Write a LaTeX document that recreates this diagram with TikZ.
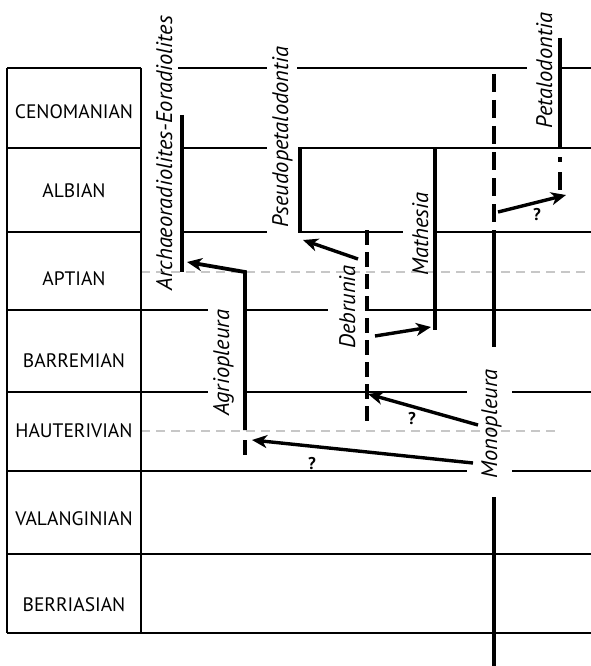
\documentclass[tikz,border=0pt]{standalone}
\usepackage{fontspec}
\setmainfont{PT Sans}
\usetikzlibrary{arrows.meta}
\begin{document}
\begin{tikzpicture}[x=1pt,y=-1pt,
  tablerule/.style={line width=1.8pt},
  guideline/.style={line width=1.2pt, black!22, dash pattern=on 9pt off 6pt},
  taxrange/.style={line width=3.8pt},
  taxdash/.style={line width=3.8pt, dash pattern=on 18pt off 8pt},
  descent/.style={line width=3.4pt, -{Stealth[length=15pt,width=13pt,inset=4.5pt]}},
  stagename/.style={font=\fontsize{19.5}{21}\selectfont, anchor=base, inner sep=0pt},
  taxonname/.style={font=\fontsize{22.5}{24}\selectfont\itshape, rotate=90, anchor=base, inner sep=0pt},
  qmark/.style={font=\fontsize{17}{18}\selectfont\bfseries, inner sep=0pt}]
\useasboundingbox (0,0) rectangle (591,666);
% guide lines
\draw[guideline] (141,272) -- (591,272);
\draw[guideline] (141,431) -- (556,431);
% table
\draw[tablerule] (7,68) -- (7,633);
\draw[tablerule] (141,68) -- (141,633);
\foreach \y/\a/\b in {68/7/141, 68/178/267, 68/297/527, 68/560/591,
  148/7/141, 148/182/267, 148/298/591,
  232/7/141, 232/182/267, 232/298/403, 232/435/591,
  310/7/208, 310/245/328, 310/367/591,
  392/7/208, 392/245/467, 392/512/591,
  471/7/467, 471/512/591, 554/7/591, 633/7/591}
  \draw[tablerule] (\a,\y) -- (\b,\y);
% stage names
\node[stagename] (cen) at (74,119) {CENOMANIAN};
\node[stagename] (alb) at (74,197) {ALBIAN};
\node[stagename] (apt) at (74,285) {APTIAN};
\node[stagename] (bar) at (74,367) {BARREMIAN};
\node[stagename] (hau) at (74,437) {HAUTERIVIAN};
\node[stagename] (val) at (74,525) {VALANGINIAN};
\node[stagename] (ber) at (74,611) {BERRIASIAN};
% coordinates
\coordinate (archT) at (182,115); \coordinate (archB) at (182,272);
\coordinate (archTip) at (187,262);
\coordinate (pseT) at (300,148); \coordinate (pseB) at (300,232);
\coordinate (pseTip) at (303,240);
\coordinate (matT) at (435,148); \coordinate (matB) at (435,330);
\coordinate (matTip) at (431,327);
\coordinate (petT) at (560,38); \coordinate (petB) at (560,148);
\coordinate (petDT) at (560,157); \coordinate (petDB) at (560,190);
\coordinate (petTip) at (566,195);
\coordinate (monT) at (494,74); \coordinate (monD) at (494,222);
\coordinate (monS) at (494,230); \coordinate (monM) at (494,347);
\coordinate (monL) at (494,497); \coordinate (monE) at (494,666);
\coordinate (monA) at (498,212);
\coordinate (monB) at (478,425);
\coordinate (monC) at (473,463);
\coordinate (debT) at (367,230); \coordinate (debB) at (367,427);
\coordinate (debA) at (358,259); \coordinate (debC) at (375,336);
\coordinate (debTip) at (368,394);
\coordinate (agrT) at (245,272); \coordinate (agrB) at (245,430);
\coordinate (agrDT) at (245,440); \coordinate (agrDB) at (245,455);
\coordinate (agrTip) at (252,440);
% ranges
\draw[taxrange] (archT) -- (archB);
\draw[taxrange] (pseT) -- (pseB);
\draw[taxrange] (matT) -- (matB);
\draw[taxrange] (petT) -- (petB);
\draw[taxrange, dash pattern=on 5pt off 10pt on 18pt off 10pt] (petDT) -- (petDB);
\draw[taxdash] (monT) -- (monD);
\draw[taxrange] (monS) -- (monM);
\draw[taxrange] (monL) -- (monE);
\draw[taxrange, dash pattern=on 15pt off 7pt] (debT) -- (debB);
\draw[taxrange] (agrDT) -- (agrDB);
\draw[taxrange, -{Stealth[length=15pt,width=13pt,inset=4.5pt]}] (agrB) -- (agrT) -- (archTip);
% arrows
\draw[descent] (debA) -- (pseTip);
\draw[descent] (debC) -- (matTip);
\draw[descent] (monA) -- (petTip);
\draw[descent] (monB) -- (debTip);
\draw[descent] (monC) -- (agrTip);
% question marks
\node[qmark] (q1) at (537,215) {?};
\node[qmark] (q2) at (412,419) {?};
\node[qmark] (q3) at (312,464) {?};
% taxa
\node[taxonname] (tArch) at (172,153) {Archaeoradiolites-Eoradiolites};
\node[taxonname] (tPse) at (288,137) {Pseudopetalodontia};
\node[taxonname] (tPet) at (552,71) {Petalodontia};
\node[taxonname] (tMat) at (428,234) {Mathesia};
\node[taxonname] (tDeb) at (355,307) {Debrunia};
\node[taxonname] (tAgr) at (229,363) {Agriopleura};
\node[taxonname] (tMon) at (497,424) {Monopleura};
\end{tikzpicture}
\end{document}
